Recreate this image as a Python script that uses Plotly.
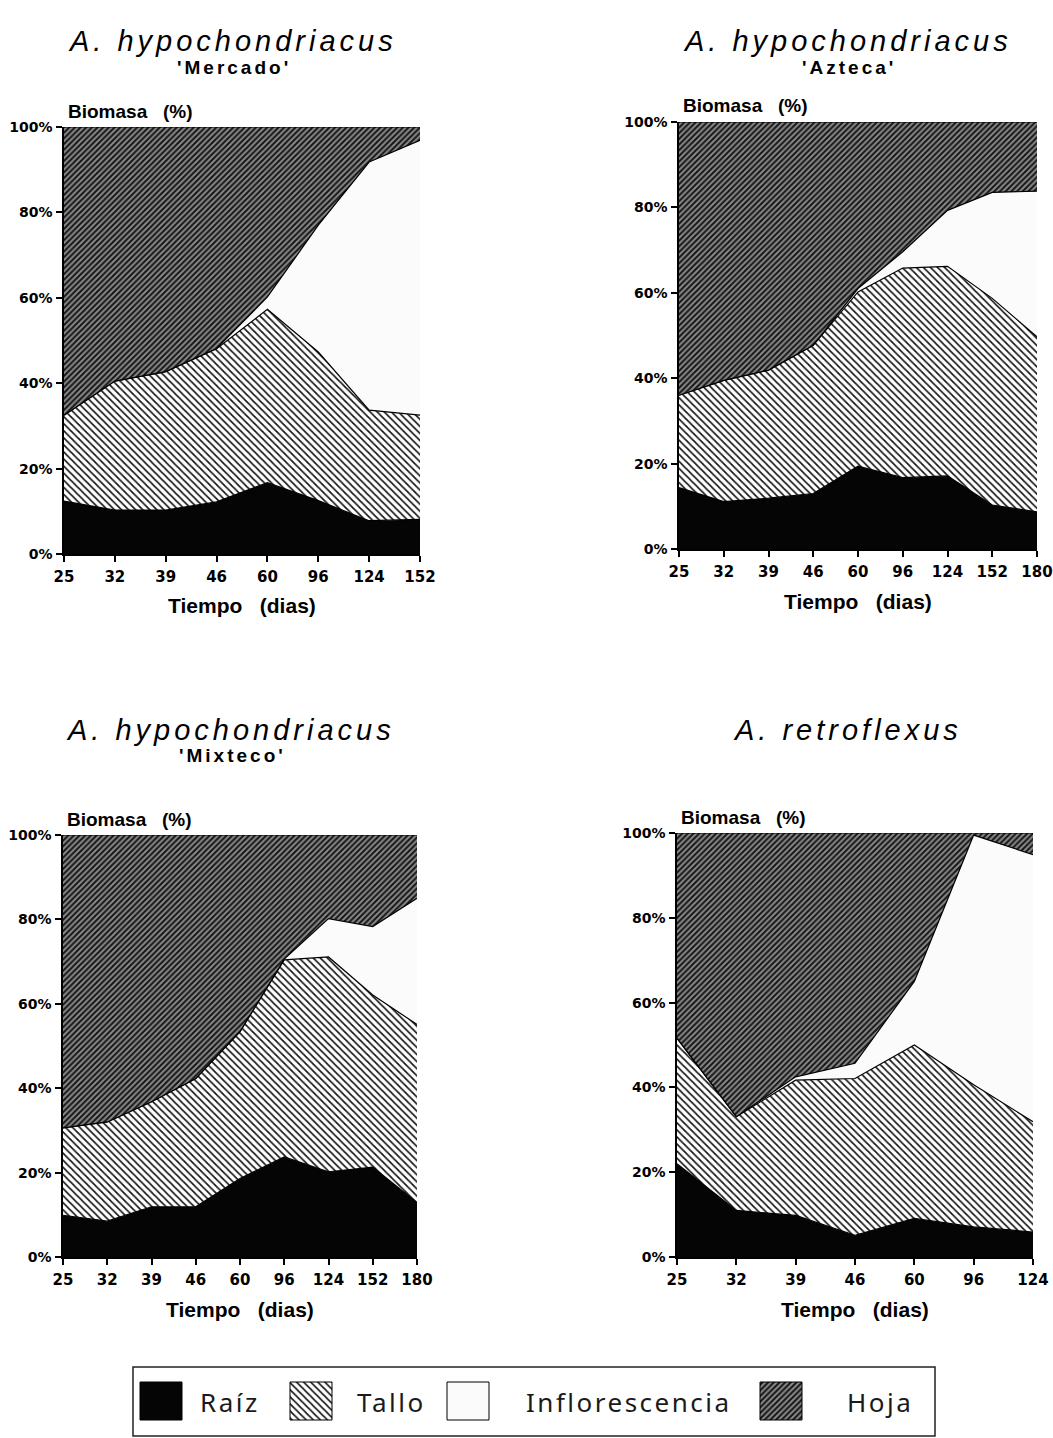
import plotly.graph_objects as go

# ---------------- data ----------------
dias_mercado = ["25", "32", "39", "46", "60", "96", "124", "152"]
raiz_mercado = [12.4, 10.3, 10.3, 12.2, 16.7, 12.5, 7.8, 8.1]
tallo_mercado = [20.1, 30.2, 32.4, 35.9, 40.6, 34.8, 25.9, 24.4]
inflo_mercado = [0, 0, 0, 0, 2.9, 29.7, 58.1, 64.4]
hoja_mercado = [67.5, 59.5, 57.3, 51.9, 39.8, 23.0, 8.2, 3.1]

dias_azteca = ["25", "32", "39", "46", "60", "96", "124", "152", "180"]
raiz_azteca = [14.4, 11.1, 11.9, 13.0, 19.4, 16.7, 17.1, 10.3, 8.7]
tallo_azteca = [21.6, 28.4, 30.0, 34.7, 40.8, 49.1, 49.1, 48.4, 41.0]
inflo_azteca = [0, 0, 0, 0, 0.8, 3.8, 13.1, 24.8, 34.1]
hoja_azteca = [64.0, 60.5, 58.1, 52.3, 39.0, 30.4, 20.7, 16.5, 16.2]

dias_mixteco = ["25", "32", "39", "46", "60", "96", "124", "152", "180"]
raiz_mixteco = [9.9, 8.5, 11.9, 11.9, 18.6, 23.7, 20.2, 21.3, 12.9]
tallo_mixteco = [20.7, 23.5, 24.9, 30.4, 34.8, 46.7, 50.9, 40.8, 42.2]
inflo_mixteco = [0, 0, 0, 0, 0, 0.2, 9.1, 16.2, 29.9]
hoja_mixteco = [69.4, 68.0, 63.2, 57.7, 46.6, 29.4, 19.8, 21.7, 15.0]

dias_retro = ["25", "32", "39", "46", "60", "96", "124"]
raiz_retro = [22.0, 11.0, 9.8, 5.1, 9.1, 7.1, 5.9]
tallo_retro = [29.6, 22.1, 31.9, 37.0, 40.9, 33.5, 26.0]
inflo_retro = [0, 0, 0.8, 3.6, 15.0, 58.9, 63.0]
hoja_retro = [48.4, 66.9, 57.5, 54.3, 35.0, 0.5, 5.1]

componentes = ["Raíz", "Tallo", "Inflorescencia", "Hoja"]
especies = ["A. hypochondriacus", "A. hypochondriacus", "A. hypochondriacus", "A. retroflexus"]
variedades = ["'Mercado'", "'Azteca'", "'Mixteco'", ""]
y_ticks = [0, 20, 40, 60, 80, 100]
y_ticktext = ["0%", "20%", "40%", "60%", "80%", "100%"]

# ---------------- styles ----------------
W, H = 1053, 1438
BOLD = "Liberation Sans"
fills = {
    "Raíz": dict(fillcolor="#050505", fillpattern=None),
    "Tallo": dict(fillcolor="#ffffff",
                  fillpattern=dict(shape="\\", size=5, solidity=0.34, fgcolor="#151515",
                                   bgcolor="#ffffff", fillmode="replace")),
    "Inflorescencia": dict(fillcolor="#fbfbfb", fillpattern=None),
    "Hoja": dict(fillcolor="#8c8c8c",
                 fillpattern=dict(shape="/", size=4, solidity=0.5, fgcolor="#151515",
                                  bgcolor="#8a8a8a", fillmode="replace")),
}

def px_x(p):
    return p / W

def px_y(p):
    return 1 - p / H

# panel pixel boxes: left, right, top, bottom
panels = [
    (64, 420, 127, 554),
    (679, 1037, 122, 549),
    (63, 417, 835, 1257),
    (677, 1033, 833, 1257),
]
# title / subtitle vertical centres (pixels)
title_y = [41, 41, 730, 730]
sub_y = [67, 67, 756, 756]
title_cx = [232, 847, 230, 847]

datasets = [
    (dias_mercado, [raiz_mercado, tallo_mercado, inflo_mercado, hoja_mercado]),
    (dias_azteca, [raiz_azteca, tallo_azteca, inflo_azteca, hoja_azteca]),
    (dias_mixteco, [raiz_mixteco, tallo_mixteco, inflo_mixteco, hoja_mixteco]),
    (dias_retro, [raiz_retro, tallo_retro, inflo_retro, hoja_retro]),
]

fig = go.Figure()
annotations = []
shapes = []
layout = dict(
    width=W, height=H, margin=dict(l=0, r=0, t=0, b=0, pad=0, autoexpand=False),
    paper_bgcolor="white", plot_bgcolor="rgba(0,0,0,0)", showlegend=False,
)

for i, ((l, r, t, b), (dias, series)) in enumerate(zip(panels, datasets)):
    k = i + 1
    xa = "x" if k == 1 else f"x{k}"
    ya = "y" if k == 1 else f"y{k}"
    for name, vals in zip(componentes, series):
        st = fills[name]
        kw = dict(x=dias, y=vals, mode="lines", stackgroup=f"g{k}",
                  line=dict(color="#000000", width=1.2, shape="linear"),
                  fillcolor=st["fillcolor"], name=name, xaxis=xa, yaxis=ya,
                  hoverinfo="skip")
        if st["fillpattern"] is not None:
            kw["fillpattern"] = st["fillpattern"]
        fig.add_trace(go.Scatter(**kw))
    layout[f"xaxis{'' if k == 1 else k}"] = dict(
        domain=[px_x(l), px_x(r)], anchor=ya, type="category", automargin=False,
        range=[0, len(dias) - 1], showgrid=False, zeroline=False,
        showline=True, linecolor="black", linewidth=1.5,
        ticks="outside", ticklen=6, tickwidth=1.5, tickcolor="black",
        tickfont=dict(family="DejaVu Sans", size=15, color="black", weight="bold"),
        ticklabelstandoff=2,
    )
    layout[f"yaxis{'' if k == 1 else k}"] = dict(
        domain=[px_y(b), px_y(t)], anchor=xa, range=[0, 100], automargin=False,
        tickvals=y_ticks, ticktext=y_ticktext,
        showgrid=False, zeroline=False, showline=True, linecolor="black",
        linewidth=1.5, ticks="outside", ticklen=6, tickwidth=1.5, tickcolor="black",
        tickfont=dict(family="DejaVu Sans", size=14, color="black", weight="bold"),
        ticklabelstandoff=1,
    )
    # species title
    annotations.append(dict(
        x=px_x(title_cx[i]), y=px_y(title_y[i]), xref="paper", yref="paper",
        text='<span style="letter-spacing:4px">' + especies[i] + "</span>",
        showarrow=False, xanchor="center", yanchor="middle",
        font=dict(family="Liberation Sans", size=29, color="black", style="italic"),
    ))
    if variedades[i]:
        annotations.append(dict(
            x=px_x(title_cx[i] + 2), y=px_y(sub_y[i]), xref="paper", yref="paper",
            text='<span style="letter-spacing:3px">' + variedades[i] + "</span>",
            showarrow=False, xanchor="center", yanchor="middle",
            font=dict(family=BOLD, size=19, color="black", weight="bold"),
        ))
    annotations.append(dict(
        x=px_x(l + 2), y=px_y(t - 16), xref="paper", yref="paper",
        text="Biomasa\u00a0\u00a0\u00a0(%)", showarrow=False, xanchor="left", yanchor="middle",
        font=dict(family=BOLD, size=19, color="black", weight="bold"),
    ))
    annotations.append(dict(
        x=px_x((l + r) / 2), y=px_y(b + 52), xref="paper", yref="paper",
        text="Tiempo\u00a0\u00a0\u00a0(dias)", showarrow=False, xanchor="center", yanchor="middle",
        font=dict(family=BOLD, size=21, color="black", weight="bold"),
    ))

# ---------------- legend (drawn in a pixel-coordinate helper axis) ----------------
LX0, LX1, LY0, LY1 = 133, 935, 1367, 1436
layout["xaxis5"] = dict(domain=[px_x(LX0), px_x(LX1)], range=[LX0, LX1], visible=False,
                        anchor="y5", fixedrange=True, automargin=False)
layout["yaxis5"] = dict(domain=[px_y(LY1), px_y(LY0)], range=[LY1, LY0], visible=False,
                        anchor="x5", fixedrange=True, automargin=False)
shapes.append(dict(type="rect", xref="paper", yref="paper",
                   x0=px_x(LX0), x1=px_x(LX1), y0=px_y(LY1), y1=px_y(LY0),
                   line=dict(color="#222222", width=1.5), fillcolor="rgba(0,0,0,0)"))
swatch_x = [140, 290, 447, 760]
text_x = [198, 355, 524, 845]
sw_w, sw_top, sw_bot = 42, 1382, 1420
for name, sx, tx in zip(componentes, swatch_x, text_x):
    st = fills[name]
    kw = dict(x=[sx, sx + sw_w, sx + sw_w, sx, sx], y=[sw_top, sw_top, sw_bot, sw_bot, sw_top],
              mode="lines", fill="toself", fillcolor=st["fillcolor"],
              line=dict(color="#000000", width=1), xaxis="x5", yaxis="y5", hoverinfo="skip")
    if st["fillpattern"] is not None:
        kw["fillpattern"] = st["fillpattern"]
    fig.add_trace(go.Scatter(**kw))
    annotations.append(dict(x=tx, y=(sw_top + sw_bot) / 2 + 1, xref="x5", yref="y5",
                            text='<span style="letter-spacing:2.5px">' + name + "</span>",
                            showarrow=False, xanchor="left", yanchor="middle",
                            font=dict(family="Noto Sans", size=26, color="#1a1a1a")))

layout["annotations"] = annotations
layout["shapes"] = shapes
fig.update_layout(**layout)
fig.write_html("out.html")
